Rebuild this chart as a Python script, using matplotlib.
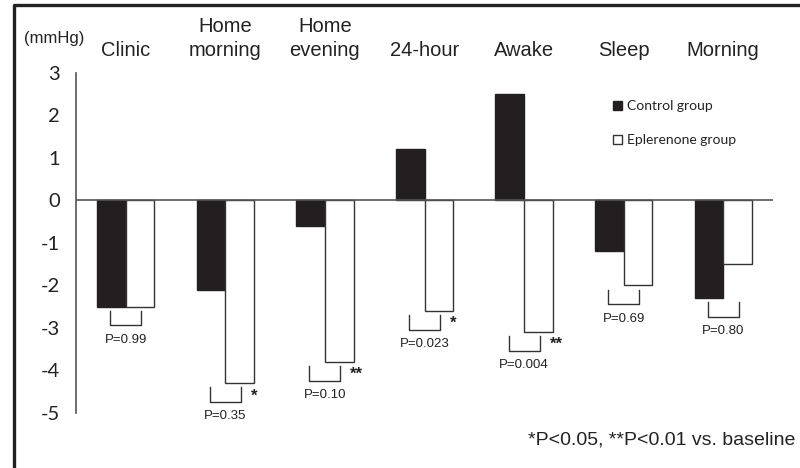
import matplotlib
matplotlib.use("Agg")
import matplotlib.pyplot as plt
import matplotlib.transforms as mtransforms
from matplotlib.lines import Line2D
import numpy as np

categories = ["Clinic", "Home\nmorning", "Home\nevening", "24-hour", "Awake", "Sleep", "Morning"]
control = [-2.5, -2.1, -0.6, 1.2, 2.5, -1.2, -2.3]
eplerenone = [-2.5, -4.3, -3.8, -2.6, -3.1, -2.0, -1.5]
p_values = ["P=0.99", "P=0.35", "P=0.10", "P=0.023", "P=0.004", "P=0.69", "P=0.80"]
stars = ["", "*", "**", "*", "**", "", ""]
yticks = [3, 2, 1, 0, -1, -2, -3, -4, -5]

W, H = 800, 468
fig = plt.figure(figsize=(8.0, 4.68), dpi=100)
ax = fig.add_axes([76 / W, 1 - 413 / H, (773 - 76) / W, (413 - 72.5) / H])

x = np.arange(len(categories))
w = 0.287
dark = "#231f20"
ax.bar(x - w / 2, control, width=w, color=dark, edgecolor=dark, linewidth=1.0,
       label="Control group", zorder=2)
ax.bar(x + w / 2, eplerenone, width=w, color="white", edgecolor="#333333", linewidth=1.0,
       label="Eplerenone group", zorder=2)

ax.set_xlim(-0.5, 6.5)
ax.set_ylim(-5, 3)
ax.axhline(0, color="#555555", linewidth=1.2, zorder=3)
for s in ["top", "right", "bottom"]:
    ax.spines[s].set_visible(False)
ax.spines["left"].set_color("#555555")
ax.spines["left"].set_linewidth(1.2)
ax.set_xticks([])
ax.set_yticks(yticks)
ax.set_yticklabels([str(t) for t in yticks], fontfamily="Lato", fontsize=14.5, color="#222222")
ax.tick_params(axis="y", length=0, pad=11.5)

# category labels above the plot
blend = mtransforms.blended_transform_factory(ax.transData, fig.transFigure)
for i, c in enumerate(categories):
    ax.text(i, 1 - 60 / H, c, transform=blend,
            ha="center", va="bottom", fontsize=14.5, fontfamily="Liberation Sans",
            color="#222222", linespacing=1.36)

fig.text(54 / W, 1 - 39 / H, "(mmHg)", ha="center", va="center", fontsize=12,
         fontfamily="Liberation Sans", color="#222222")

# brackets with p-values
hw = 0.156
for i in range(len(categories)):
    low = min(control[i], eplerenone[i], 0)
    top = low - 0.1
    bot = top - 0.34
    ax.plot([i - hw, i - hw, i + hw, i + hw], [top, bot, bot, top], color="#333333",
            linewidth=1.0, clip_on=False)
    ax.text(i, bot - 0.34, p_values[i], ha="center", va="center", fontsize=9.5,
            fontfamily="Liberation Sans", color="#222222")
    if stars[i]:
        ax.text(i + hw + 0.1, top - 0.02, stars[i], ha="left", va="top", fontsize=12,
                fontfamily="Liberation Sans", color="#222222", fontweight="bold")

leg = ax.legend(loc="upper left", bbox_to_anchor=(612.5 / W, 1 - 100.5 / H),
                bbox_transform=fig.transFigure, frameon=False, borderpad=0,
                borderaxespad=0,
                prop={"family": "Lato", "size": 10}, handlelength=0.65, handleheight=0.65,
                handletextpad=0.4, labelspacing=1.55)
for t in leg.get_texts():
    t.set_color("#222222")

fig.text(795 / W, 1 - 440 / H, "*P<0.05, **P<0.01 vs. baseline", ha="right", va="center",
         fontsize=14, fontfamily="Liberation Sans", color="#222222")

# outer frame (top and left)
fig.add_artist(Line2D([14 / W, 14 / W, 1.0], [0.0, 1 - 5 / H, 1 - 5 / H],
                      transform=fig.transFigure, color="#222222", linewidth=2.4))

fig.savefig("out.png", dpi=100)
